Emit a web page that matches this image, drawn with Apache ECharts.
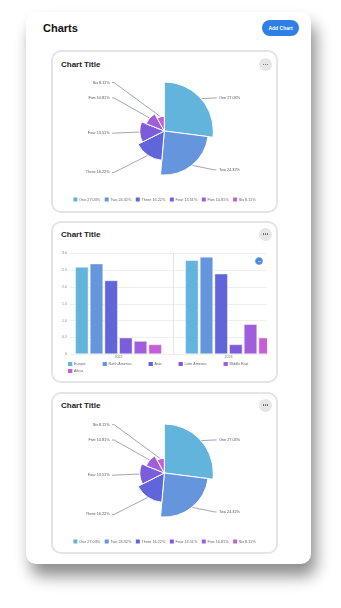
<!DOCTYPE html>
<html><head><meta charset="utf-8">
<script src="https://cdn.jsdelivr.net/npm/echarts@6/dist/echarts.min.js"></script>
<style>
html,body{margin:0;padding:0;background:#fff;width:341px;height:608px;overflow:hidden;font-family:"Liberation Sans",Arial,sans-serif;}
#panel{position:absolute;left:26px;top:12px;width:285px;height:552px;background:#fff;border-radius:10px;box-shadow:5px 12px 16px rgba(0,0,0,0.45);}
.h{position:absolute;left:43px;top:22px;font-size:11px;line-height:13px;font-weight:bold;color:#111;}
.btn{position:absolute;left:262px;top:20px;width:37px;height:16px;border-radius:8px;background:#2f7fe6;color:#fff;font-size:5px;font-weight:bold;line-height:16px;text-align:center;}
.card{position:absolute;left:51px;width:223px;border:2px solid #e4e4e4;border-radius:10px;background:#fff;box-sizing:content-box;}
.t{position:absolute;left:61px;font-size:8px;line-height:9px;font-weight:bold;color:#222;}
.dots{position:absolute;left:259px;width:13px;height:13px;border-radius:50%;background:#e6e6e6;display:flex;align-items:center;justify-content:center;gap:0.7px;}
.dots b{display:block;width:1.3px;height:1.3px;border-radius:50%;background:#555;}
.ch{position:absolute;}
#blue{position:absolute;left:255px;top:256.5px;width:8.4px;height:8.4px;border-radius:50%;background:#4a84dc;box-sizing:border-box;border:0.6px solid #7ea6e6;}
#blue i{position:absolute;left:2.2px;top:3.4px;width:3px;height:0.8px;background:#a9c6f0;}
</style></head>
<body>
<div id="panel"></div>
<div class="h">Charts</div>
<div class="btn">Add Chart</div>

<div class="card" style="top:50px;height:159px;"></div>
<div class="card" style="top:221px;height:158px;"></div>
<div class="card" style="top:392px;height:158px;"></div>

<div class="t" style="top:60px;">Chart Title</div>
<div class="t" style="top:229.5px;">Chart Title</div>
<div class="t" style="top:401px;">Chart Title</div>
<div class="dots" style="top:58px;"><b></b><b></b><b></b></div>
<div class="dots" style="top:227.5px;"><b></b><b></b><b></b></div>
<div class="dots" style="top:398.5px;"><b></b><b></b><b></b></div>

<div id="pie1" class="ch" style="left:51px;top:50px;width:227px;height:163px;"></div>
<div id="bar" class="ch" style="left:51px;top:221px;width:216px;height:160px;"></div>
<div id="pie3" class="ch" style="left:51px;top:392px;width:227px;height:160px;"></div>
<div id="blue"><i></i></div>

<script>
// ---- data ----
var pieNames = ['One', 'Two', 'Three', 'Four', 'Five', 'Six'];
var pieValues = [10, 9, 6, 5, 4, 3];
var palette = ['#62b4dc', '#6595dd', '#6065d9', '#7b5ddb', '#a05edb', '#c75ed9'];

var years = ['2022', '2023'];
var regions = ['Europe', 'North America', 'Asia', 'Latin America', 'Middle East', 'Africa'];
var europe = [2.6, 2.8];
var northAmerica = [2.7, 2.9];
var asia = [2.2, 2.4];
var latinAmerica = [0.5, 0.3];
var middleEast = [0.4, 0.9];
var africa = [0.3, 0.5];
var yTickLabels = ['0', '0.5', '1.0', '1.5', '2.0', '2.5', '3.0'];

var FONT = '"Liberation Sans", Arial, sans-serif';
var PIE_CX = 113.3, PIE_CY = 81, PIE_R = 49, LINE_END_R = 52.2, LABEL_GAP = 2.5;

function pieOption() {
  var total = pieValues.reduce(function (a, b) { return a + b; }, 0);
  var pct = {};
  pieNames.forEach(function (n, i) { pct[n] = (pieValues[i] / total * 100).toFixed(2); });
  return {
    animation: false,
    color: palette,
    textStyle: { fontFamily: FONT },
    legend: {
      left: 'center', top: 147.5, padding: 0,
      itemWidth: 4, itemHeight: 4, itemGap: 4.5,
      icon: 'rect',
      itemStyle: { borderWidth: 0 },
      textStyle: { fontSize: 3.8, color: '#666', padding: [0, 0, 0, -3.3] },
      formatter: function (n) { return n + ' ' + pct[n] + '%'; }
    },
    series: [{
      type: 'pie',
      roseType: 'radius',
      center: [PIE_CX, PIE_CY],
      radius: [0, PIE_R],
      startAngle: 90,
      itemStyle: { borderColor: '#fff', borderWidth: 1 },
      label: { formatter: '{b} {d}%', fontSize: 3.8, color: '#555' },
      labelLine: { length: 1, length2: 2, lineStyle: { color: '#969cb0', width: 0.9 } },
      labelLayout: function (p) {
        var pts = p.labelLinePoints;
        if (!pts) return {};
        var dir = pts[0][0] >= PIE_CX ? 1 : -1;
        var endX = PIE_CX + dir * LINE_END_R;
        var y = pts[1][1];
        return {
          x: endX + dir * LABEL_GAP,
          y: y,
          align: dir > 0 ? 'left' : 'right',
          verticalAlign: 'middle',
          labelLinePoints: [pts[0], [endX - dir * 2, y], [endX, y]]
        };
      },
      data: pieNames.map(function (n, i) { return { name: n, value: pieValues[i] }; })
    }]
  };
}

echarts.init(document.getElementById('pie1')).setOption(pieOption());
echarts.init(document.getElementById('pie3')).setOption(pieOption());

var barSeriesData = [europe, northAmerica, asia, latinAmerica, middleEast, africa];
var legendBase = {
  left: 17, padding: 0,
  itemWidth: 4.3, itemHeight: 4, itemGap: 17,
  icon: 'rect',
  itemStyle: { borderWidth: 0 },
  textStyle: { fontSize: 3.6, color: '#666', padding: [0, 0, 0, -3.3] }
};
var GRID_TOP = 32.3, GRID_H = 101, BAND_W = 110, GRID_LEFT = 12.5;
var barChart = echarts.init(document.getElementById('bar'));
barChart.setOption({
  animation: false,
  color: palette,
  textStyle: { fontFamily: FONT },
  legend: [
    Object.assign({}, legendBase, { top: 141, data: regions.slice(0, 5) }),
    Object.assign({}, legendBase, { top: 148, data: regions.slice(5) })
  ],
  grid: [
    { left: GRID_LEFT, top: GRID_TOP, width: BAND_W * years.length, height: GRID_H, outerBoundsMode: 'none', containLabel: false },
    { left: 19, right: 0, top: GRID_TOP, height: GRID_H, outerBoundsMode: 'none', containLabel: false },
    // band of the second category, used only for the separator line between the years
    { left: GRID_LEFT + BAND_W, top: GRID_TOP, width: BAND_W, height: GRID_H, outerBoundsMode: 'none', containLabel: false }
  ],
  xAxis: [
    {
      gridIndex: 0, type: 'category', data: years,
      axisLine: { show: false }, axisTick: { show: false },
      axisLabel: { fontSize: 3.6, color: '#777', margin: 1 },
      splitLine: { show: false }
    },
    { gridIndex: 1, type: 'value', show: false },
    {
      gridIndex: 2, type: 'category', data: years.slice(1),
      axisLine: { show: false }, axisTick: { show: false }, axisLabel: { show: false },
      splitLine: { show: true, lineStyle: { color: '#e4e4e4', width: 1 } }
    }
  ],
  yAxis: [
    { gridIndex: 0, type: 'value', min: 0, max: 3, interval: 0.5, show: false },
    {
      gridIndex: 1, type: 'value', min: 0, max: 3, interval: 0.5,
      axisLine: { show: false }, axisTick: { show: false },
      axisLabel: { fontSize: 3.6, color: '#888', margin: 3,
        formatter: function (v) { return yTickLabels[Math.round(v / 0.5)]; } },
      splitLine: { lineStyle: { color: '#ebebeb', width: 0.8 } }
    },
    { gridIndex: 2, type: 'value', min: 0, max: 3, show: false }
  ],
  series: regions.map(function (r, i) {
    return {
      name: r, type: 'bar', xAxisIndex: 0, yAxisIndex: 0,
      barCategoryGap: '21%', barGap: '8%',
      itemStyle: { borderColor: 'rgba(255,255,255,0.45)', borderWidth: 1 },
      data: barSeriesData[i]
    };
  })
});
</script>
</body></html>
